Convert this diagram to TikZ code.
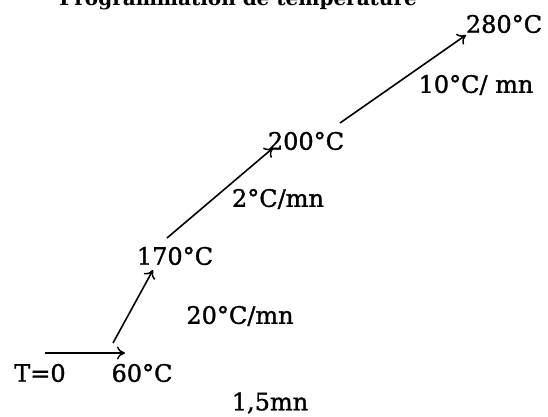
\documentclass[tikz,border=0pt]{standalone}
\usepackage{fontspec}
\setmainfont{DejaVu Serif}
\newfontfamily\lblfont[FakeBold=1.3]{DejaVu Serif}
\usetikzlibrary{arrows.meta}
\tikzset{
  lbl/.style={inner sep=0pt, font=\lblfont\fontsize{24}{27}\selectfont},
  ttl/.style={inner sep=0pt, anchor=base east, font=\bfseries\fontsize{20}{24}\selectfont},
  conn/.style={line width=1.6pt, -{To[length=8pt,width=13pt,line width=1.5pt]}}
}
\begin{document}
\begin{tikzpicture}[x=1pt,y=-1pt]
\useasboundingbox (0,0) rectangle (548,416);
\begin{scope}
\clip (0,0) rectangle (548,416);
\node[ttl] (title) at (417,5) {Programmation de temperature};
\end{scope}
\node[lbl] (t280) at (504,24) {280°C};
\node[lbl] (r10) at (476,85) {10°C/ mn};
\node[lbl] (t200) at (306,141) {200°C};
\node[lbl] (r2) at (278,199) {2°C/mn};
\node[lbl] (t170) at (175,256) {170°C};
\node[lbl] (r20) at (240,316) {20°C/mn};
\node[lbl] (t0) at (40,373) {T=0};
\node[lbl] (t60) at (142,373) {60°C};
\node[lbl] (d15) at (270,403) {1,5mn};
\coordinate (a0) at (45,353);
\coordinate (a1) at (125,353);
\coordinate (b0) at (113,343);
\coordinate (b1) at (153,270);
\coordinate (c0) at (167,238);
\coordinate (c1) at (273,148);
\coordinate (d0) at (340,123);
\coordinate (d1) at (466,35);
\draw[conn] (a0) -- (a1);
\draw[conn] (b0) -- (b1);
\draw[conn] (c0) -- (c1);
\draw[conn] (d0) -- (d1);
\end{tikzpicture}
\end{document}
